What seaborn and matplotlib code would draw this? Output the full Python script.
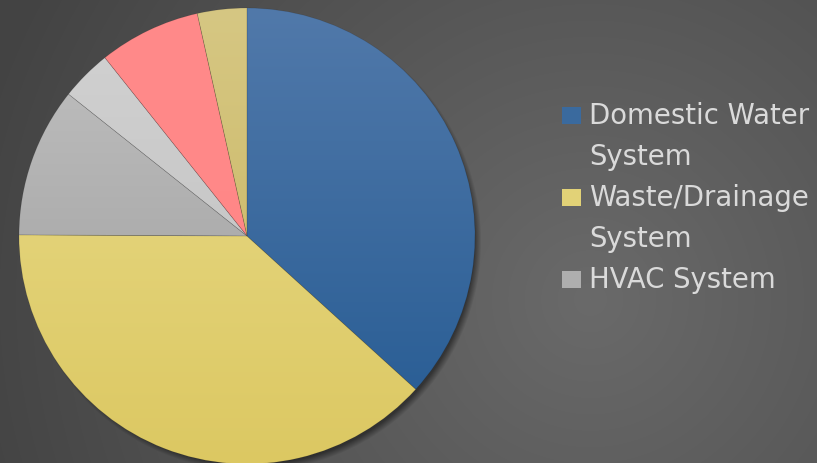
import numpy as np
import matplotlib
matplotlib.use("Agg")
import matplotlib.pyplot as plt
import matplotlib.colors as mcolors
from matplotlib.patches import Rectangle
import seaborn as sns

# Share of plumbing/mechanical work by system
categories = ["Domestic Water\nSystem", "Waste/Drainage\nSystem", "HVAC System",
              "Fire Protection", "Gas System", "Other"]
shares = [36.7, 38.3, 10.6, 3.6, 7.2, 3.5]
legend_count = 3

# Top/bottom colours of each slice's vertical gradient
top_colors = ["#5179aa", "#e9dc8c", "#c2c2c2", "#d2d2d2", "#ff8a8a", "#d6c783"]
bottom_colors = ["#245a92", "#dcc862", "#999999", "#bdbdbd", "#ff8585", "#c8b45c"]

sns.set_theme(style="white")
plt.rcParams["font.family"] = ["DejaVu Sans"]

W, H = 817, 464
fig = plt.figure(figsize=(W / 100, H / 100), dpi=100)

# Backdrop: dark radial gradient with a soft drop shadow under the pie
bg_ax = fig.add_axes([0, 0, 1, 1])
yy, xx = np.mgrid[0:H, 0:W].astype(float)
d = np.hypot(xx - 590, yy - 300)
t = np.clip(d / 640.0, 0, 1)
lum = 0x6a / 255 * (1 - t) + 0x43 / 255 * t
cx, cy, R = 247, 237, 228
ds = np.hypot(xx - (cx + 4), yy - (cy + 5))
shade = np.clip((R + 2 - ds) / 7.0, 0, 1) * 0.45
lum = lum * (1 - shade)
bg = np.dstack([lum, lum, lum])
bg_ax.imshow(bg, extent=[0, W, H, 0], aspect="auto", interpolation="bilinear")
bg_ax.set_xlim(0, W)
bg_ax.set_ylim(H, 0)
bg_ax.axis("off")

# Pie axes placed so the radius-1 pie spans the circle on the page
ax = fig.add_axes([(cx - R) / W, (H - cy - R) / H, 2 * R / W, 2 * R / H])
ax.set_facecolor("none")
wedges, _ = ax.pie(shares, startangle=90, counterclock=False, radius=1.0,
                   colors=bottom_colors,
                   wedgeprops=dict(linewidth=0.5, edgecolor=(0, 0, 0, 0.12)))
ax.set_xlim(-1, 1)
ax.set_ylim(-1, 1)
ax.set_aspect("equal")
ax.axis("off")

grad = np.linspace(0, 1, 256)[:, None]
for w, c0, c1 in zip(wedges, top_colors, bottom_colors):
    cmap = mcolors.LinearSegmentedColormap.from_list("g", [c0, c1])
    im = ax.imshow(np.repeat(grad, 2, axis=1), cmap=cmap, extent=[-1, 1, -1, 1],
                   origin="upper", aspect="auto", zorder=w.get_zorder() - 0.01,
                   interpolation="bilinear")
    im.set_clip_path(w)
    w.set_facecolor("none")

# Legend, drawn in page pixel units
text_color = "#dadada"
fs = 19.8
x_box, x_text = 562, 589
pitch = 41
y = 116
for i in range(legend_count):
    lines = categories[i].split("\n")
    fig.patches.append(Rectangle((x_box / W, 1 - (y + 9) / H), 19 / W, 17 / H,
                                 transform=fig.transFigure, figure=fig,
                                 facecolor=mcolors.to_hex(
                                     (np.array(mcolors.to_rgb(top_colors[i])) +
                                      np.array(mcolors.to_rgb(bottom_colors[i]))) / 2),
                                 edgecolor="none"))
    for line in lines:
        fig.text(x_text / W, 1 - y / H, line, color=text_color, fontsize=fs,
                 ha="left", va="center")
        y += pitch

fig.savefig("out.png", dpi=100)
